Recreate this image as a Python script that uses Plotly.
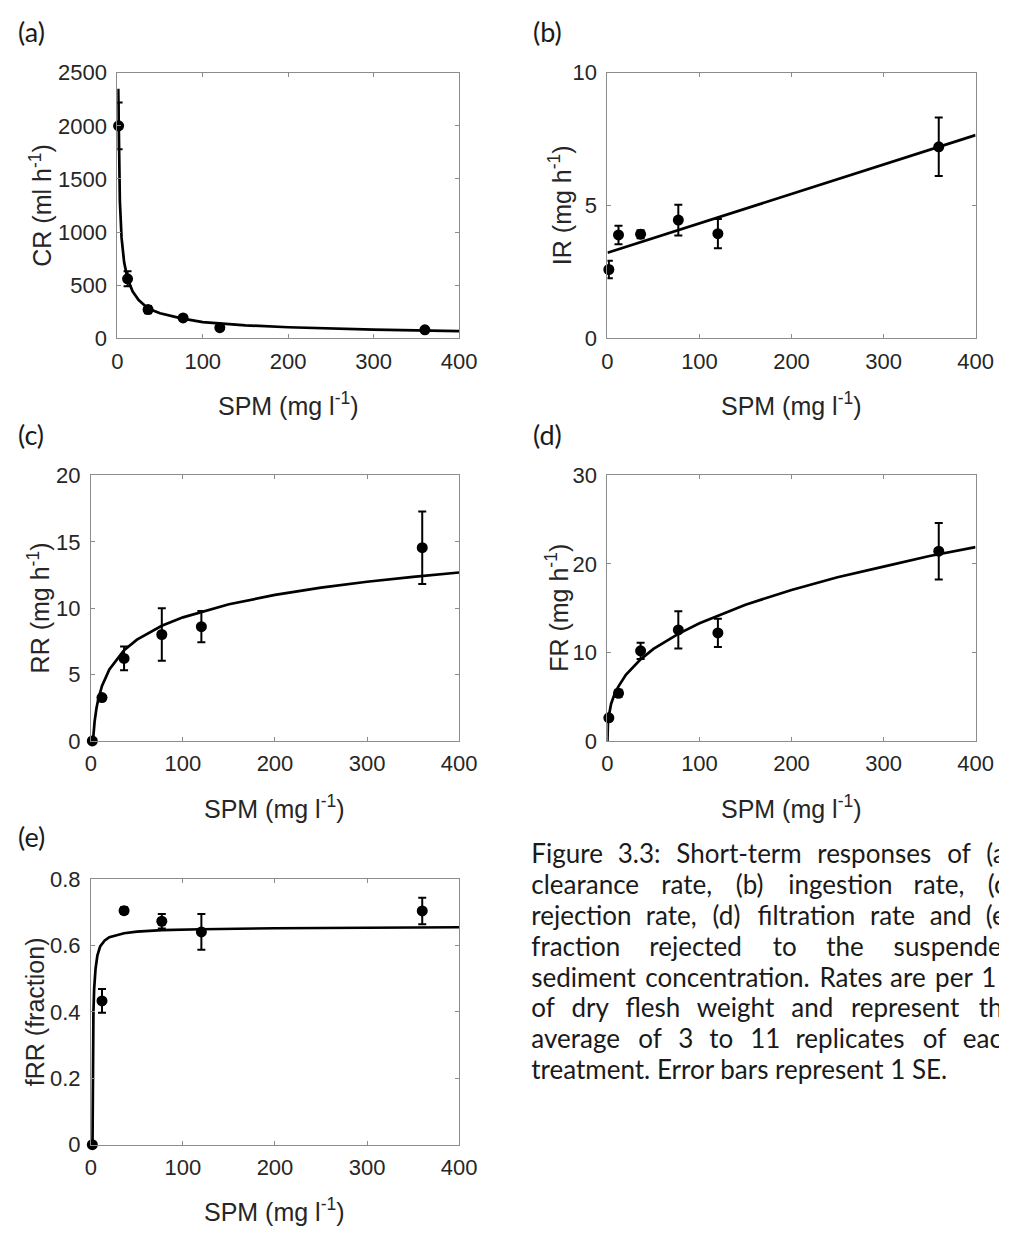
import plotly.graph_objects as go

# ---------------- data ----------------
spm = [1.5, 12, 36, 77, 120, 360]

cr = [2000, 560, 270, 192, 100, 80]
cr_se = [220, 70, 35, 20, 15, 12]
ir = [2.59, 3.89, 3.92, 4.45, 3.94, 7.21]
ir_se = [0.33, 0.35, 0.15, 0.58, 0.55, 1.1]
rr = [0, 3.27, 6.22, 8.02, 8.61, 14.56]
rr_se = [0.1, 0.2, 0.9, 1.97, 1.18, 2.73]
fr = [2.62, 5.39, 10.18, 12.55, 12.21, 21.44]
fr_se = [0.3, 0.4, 0.92, 2.1, 1.6, 3.2]
frr = [0, 0.433, 0.705, 0.673, 0.641, 0.704]
frr_se = [0, 0.036, 0.01, 0.022, 0.054, 0.04]

# fitted curves
cr_fit_x = [1.1, 1.5, 2, 3, 5, 8, 12, 18, 25, 36, 50, 75, 100, 150, 200, 250, 300, 350, 400]
cr_fit_y = [2350, 1950, 1640, 1290, 945, 715, 560, 440, 360, 280, 235, 188, 152, 122, 104, 91, 81, 74, 68]
ir_fit_x = [0, 400]
ir_fit_y = [3.22, 7.65]
rr_fit_x = [2.2, 2.5, 3, 4, 6, 8, 12, 20, 36, 50, 77, 100, 150, 200, 250, 300, 350, 400]
rr_fit_y = [0, 0.33, 0.78, 1.48, 2.46, 3.16, 4.15, 5.39, 6.83, 7.63, 8.68, 9.31, 10.30, 11.0, 11.55, 11.99, 12.36, 12.69]
fr_fit_x = [0, 0.02, 0.2, 0.5, 1, 2, 4, 8, 12, 20, 36, 50, 77, 100, 150, 200, 250, 300, 350, 400]
fr_fit_y = [0, 0.64, 1.44, 2.0, 2.56, 3.28, 4.21, 5.39, 6.17, 7.47, 9.22, 10.4, 12.1, 13.3, 15.4, 17.05, 18.5, 19.7, 20.9, 21.9]
frr_fit_x = [1.7, 1.9, 2.2, 2.7, 3.5, 5, 7, 10, 15, 20, 36, 50, 77, 120, 200, 300, 400]
frr_fit_y = [0, 0.15, 0.30, 0.40, 0.47, 0.53, 0.57, 0.597, 0.615, 0.625, 0.637, 0.642, 0.646, 0.649, 0.652, 0.654, 0.655]

panel_labels = ["(a)", "(b)", "(c)", "(d)", "(e)"]
y_titles = ["CR (ml h<sup>-1</sup>)", "IR (mg h<sup>-1</sup>)", "RR (mg h<sup>-1</sup>)",
            "FR (mg h<sup>-1</sup>)", "fRR (fraction)"]
x_title = "SPM (mg l<sup>-1</sup>)"
y_ranges = [[0, 2500], [0, 10], [0, 20], [0, 30], [0, 0.8]]
y_dticks = [500, 5, 5, 10, 0.2]
x_ticks = [0, 100, 200, 300, 400]

caption_lines = [
    "Figure 3.3: Short-term responses of (a)",
    "clearance rate, (b) ingestion rate, (c)",
    "rejection rate, (d) filtration rate and (e)",
    "fraction rejected to the suspended",
    "sediment concentration. Rates are per 1 g",
    "of dry flesh weight and represent the",
    "average of 3 to 11 replicates of each",
    "treatment. Error bars represent 1 SE.",
]
caption_justified = [True, True, True, True, True, True, True, False]

# ---------------- layout geometry (pixels) ----------------
W, H = 1017, 1237
boxes = [  # (left, right, top, bottom) of each plot area
    (114, 464, 62, 333),
    (616, 993, 62, 333),
    (87, 464, 473, 744),
    (616, 993, 473, 744),
    (87, 464, 885, 1156),
]
label_pos = [(10, 19.5), (538, 19.5), (10, 431), (538, 431), (10, 842)]
ytitle_x = [35, 567, 34, 565, 30]

AX_GRAY = "#8c8c8c"
TXT = "#262626"
TICKFONT = dict(family="Liberation Sans, Arial, sans-serif", size=22, color=TXT)
TITLEFONT = dict(family="Liberation Sans, Arial, sans-serif", size=25, color=TXT)
CAP_SIZE = 26
CAPFONT = dict(family="Lato, 'Open Sans', sans-serif", size=CAP_SIZE, color="#1a1a1a")
LABELFONT = dict(family="Lato, 'Open Sans', sans-serif", size=27, color="#1a1a1a")

# approximate advance widths (em) used to justify caption lines
CW = {" ": 0.226, "a": 0.479, "b": 0.525, "c": 0.423, "d": 0.525, "e": 0.498, "f": 0.305,
      "g": 0.471, "h": 0.525, "i": 0.229, "j": 0.239, "k": 0.455, "l": 0.229, "m": 0.799,
      "n": 0.525, "o": 0.527, "p": 0.525, "q": 0.525, "r": 0.349, "s": 0.391, "t": 0.335,
      "u": 0.525, "v": 0.452, "w": 0.715, "x": 0.433, "y": 0.453, "z": 0.395, ".": 0.252,
      ",": 0.250, ":": 0.268, "(": 0.303, ")": 0.303, "-": 0.306, "F": 0.459, "S": 0.459,
      "R": 0.543, "E": 0.488}
EM_PX = 28.6  # px per em of the justification metrics

def word_w(w):
    return sum(CW.get(ch, 0.507) for ch in w) * EM_PX

CAP_LEFT, CAP_RIGHT = 538, 1035
cap_y0, cap_dy = 862, 31.5
CAP_AREA = (508, 1017, 835, 1110)  # x0, x1, y0, y1 (px) of the caption overlay

def px_x(v):
    return v / W

def px_y(v):
    return 1 - v / H

ys = [cr, ir, rr, fr, frr]
ses = [cr_se, ir_se, rr_se, fr_se, frr_se]
fits = [(cr_fit_x, cr_fit_y), (ir_fit_x, ir_fit_y), (rr_fit_x, rr_fit_y),
        (fr_fit_x, fr_fit_y), (frr_fit_x, frr_fit_y)]

fig = go.Figure()
layout = dict(
    width=W, height=H, margin=dict(l=0, r=0, t=0, b=0),
    paper_bgcolor="white", plot_bgcolor="rgba(0,0,0,0)", showlegend=False,
)
annotations = []

for i in range(5):
    n = "" if i == 0 else str(i + 1)
    xa, ya = "x" + n, "y" + n
    l, r, t, b = boxes[i]
    fx, fy = fits[i]
    fig.add_trace(go.Scatter(
        x=fx, y=fy, mode="lines", xaxis=xa, yaxis=ya,
        line=dict(color="black", width=2.7), cliponaxis=False, hoverinfo="skip"))
    fig.add_trace(go.Scatter(
        x=spm, y=ys[i], mode="markers", xaxis=xa, yaxis=ya,
        marker=dict(color="black", size=11),
        error_y=dict(type="data", array=ses[i], visible=True, color="black",
                     thickness=2, width=4),
        cliponaxis=False))
    common = dict(showline=True, linecolor=AX_GRAY, linewidth=1, mirror="ticks",
                  ticks="inside", ticklen=4, tickcolor=AX_GRAY, tickwidth=1,
                  showgrid=False, zeroline=False, tickfont=TICKFONT)
    layout["xaxis" + n] = dict(common, domain=[px_x(l), px_x(r)], range=[0, 400],
                               tickmode="array", tickvals=x_ticks, anchor=ya,
                               ticklabelstandoff=3)
    layout["yaxis" + n] = dict(common, domain=[px_y(b), px_y(t)], range=y_ranges[i],
                               dtick=y_dticks[i], tick0=0, anchor=xa,
                               ticklabelstandoff=5)
    annotations.append(dict(text=x_title, xref="paper", yref="paper",
                            x=px_x((l + r) / 2), y=px_y(b + 67), xanchor="center",
                            yanchor="middle", showarrow=False, font=TITLEFONT))
    annotations.append(dict(text=y_titles[i], xref="paper", yref="paper",
                            x=px_x(ytitle_x[i]), y=px_y((t + b) / 2), textangle=-90,
                            xanchor="center", yanchor="middle", showarrow=False,
                            font=TITLEFONT))
    lx, ly = label_pos[i]
    annotations.append(dict(text=panel_labels[i], xref="paper", yref="paper",
                            x=px_x(lx), y=px_y(ly), xanchor="left", yanchor="middle",
                            showarrow=False, font=LABELFONT))

# caption: drawn as text on a hidden overlay axis (pixel units) so that words running
# past the right page edge are clipped, as in the reference
cx0, cx1, cy0, cy1 = CAP_AREA
for k, line in enumerate(caption_lines):
    yk = cap_y0 + k * cap_dy
    if caption_justified[k]:
        words = line.split(" ")
        widths = [word_w(w) for w in words]
        gap = (CAP_RIGHT - CAP_LEFT - sum(widths)) / (len(words) - 1)
        xs, x = [], CAP_LEFT
        for ww in widths:
            xs.append(x)
            x += ww + gap
    else:
        words, xs = [line], [CAP_LEFT]
    fig.add_trace(go.Scatter(
        x=xs, y=[yk] * len(xs), text=words, mode="text", textposition="middle right",
        textfont=CAPFONT, xaxis="x6", yaxis="y6", cliponaxis=True, hoverinfo="skip"))

layout["xaxis6"] = dict(domain=[px_x(cx0), px_x(cx1)], range=[cx0, cx1], visible=False,
                        anchor="y6", fixedrange=True)
layout["yaxis6"] = dict(domain=[px_y(cy1), px_y(cy0)], range=[cy1, cy0], visible=False,
                        anchor="x6", fixedrange=True)

layout["annotations"] = annotations
fig.update_layout(**layout)
fig.write_html("out.html")
